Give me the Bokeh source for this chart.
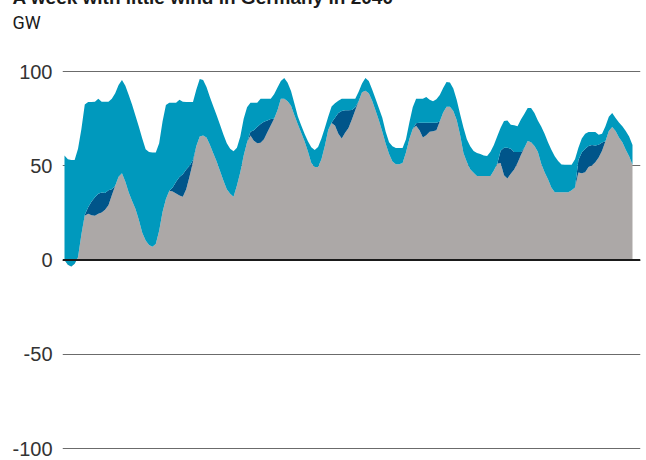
from bokeh.plotting import figure
from bokeh.models import ColumnDataSource, Range1d, Span, Title
from bokeh.embed import file_html
from bokeh.resources import INLINE

# ---- data (GW), hourly over one week (hour 0 .. 168) ----
hours = list(range(169))
gray = [0, -2.5, -3.5, -2, 1.5, 13.5, 23.5, 24.6, 23.7, 23.5,
        24.6, 25.2, 26.6, 29, 34.3, 39.4, 44.2, 46, 41.5, 35.8,
        31.3, 27, 21.2, 14.5, 10.3, 8, 7, 8.5, 15.5, 25.5,
        32.3, 36.8, 36.3, 35.3, 34.2, 33.6, 37.5, 44.5, 52, 60.5,
        65.5, 66, 65, 61.2, 56.7, 52.2, 47.2, 42.2, 37.5, 35.2,
        33.5, 39.5, 46.5, 55.5, 62.5, 66, 63.3, 62, 62.2, 64,
        67.8, 71.3, 75, 79.5, 85.5, 85.5, 84.2, 81.8, 76.8, 72,
        67.5, 63, 57.5, 51.5, 49.4, 49.4, 53.5, 60.5, 69, 72.7,
        71.3, 67, 64.4, 67.5, 70, 74.6, 79.5, 84.2, 89, 89.8,
        88.5, 84.5, 79.3, 74, 68, 61.7, 56.3, 52.2, 50.8, 50.8,
        51.5, 57, 64.2, 69.5, 71.2, 68.8, 65, 66.2, 68, 68.3,
        68.8, 73.5, 78.2, 81.3, 81.3, 79, 74.3, 66.5, 56.8, 52,
        48.2, 46.3, 44.6, 44.6, 44.6, 44.6, 44.6, 47.5, 51, 51.5,
        45, 43.3, 45.8, 48, 51.5, 55.7, 59.4, 63.2, 62.5, 60.5,
        57.4, 51, 46.5, 42.8, 38.5, 36, 36, 36, 36, 36,
        37, 38.5, 46.4, 46, 46.5, 49.4, 50.2, 51.8, 54.4, 58,
        63, 68.5, 70.5, 68.5, 65, 62.5, 58.5, 55, 50.5]
dark = [0, 0, 0, 0, 0, 0, 0.5, 3.4, 7.3, 9.8,
        10.6, 10.6, 8.9, 8, 3.2, 0, 0, 0, 0, 0,
        0, 0, 0, 0, 0, 0, 0, 0, 0, 0,
        0, 0, 2.2, 6.2, 9.8, 11.9, 10.5, 5.5, 1, 0,
        0, 0, 0, 0, 0, 0, 0, 0, 0, 0,
        0, 0, 0, 0, 0, 2, 5.5, 8.5, 10, 9.3,
        6.2, 3.5, 0, 0, 0, 0, 0, 0, 0, 0,
        0, 0, 0, 0, 0, 0, 0, 0, 0, 0.3,
        4.2, 11, 14.6, 11.9, 9.4, 5, 1.5, 0, 0, 0,
        0, 0, 0, 0, 0, 0, 0, 0, 0, 0,
        0, 0, 0, 0, 1.3, 4, 7.8, 6.6, 4.8, 4.5,
        4, 0, 0, 0, 0, 0, 0, 0, 0, 0,
        0, 0, 0, 0, 0, 0, 0, 0, 0, 6.5,
        14.5, 16.2, 13.2, 9.3, 5.8, 1.6, 0, 0, 0, 0,
        0, 0, 0, 0, 0, 0, 0, 0, 0, 0,
        0, 0, 6.6, 11, 12.5, 11.1, 10.8, 9, 6.8, 4.3,
        0, 0, 0, 0, 0, 0, 0, 0, 0]
teal = [55.5, 56, 56.5, 55, 57.5, 56, 58.5, 55.8, 52.8, 50.7,
        50.3, 48.2, 48.5, 47, 48, 49.1, 48.6, 49.5, 51, 51.8,
        51, 49.5, 49.5, 49.9, 48.5, 49.3, 50, 48.5, 46.5, 48,
        49.9, 46.6, 44.9, 41.9, 41, 38.5, 35.8, 33.8, 30.8, 30,
        30.5, 29.5, 26.8, 25.3, 24.9, 24.6, 24.5, 24.4, 24.5, 23.8,
        24.2, 20, 19, 19.5, 18.5, 15.4, 14.6, 12.9, 13.3, 12.2,
        11.5, 10.7, 13, 12, 9.5, 11, 9.8, 7.9, 6.2, 4.3,
        4, 4, 5.5, 8.3, 8.9, 10.6, 11, 9.5, 7, 8.5,
        7.7, 6.5, 6.5, 6.1, 6.1, 5.9, 4.5, 5.1, 4.7, 6.7,
        6.5, 6, 6.3, 6.5, 7.5, 6.3, 6.2, 8.1, 8.6, 8.6,
        7.9, 7, 8.8, 11.5, 13, 12.7, 12.7, 13.7, 12.2, 11.4,
        12.5, 14.1, 13, 13.1, 12.9, 12, 10.7, 11, 13.5, 12,
        12.1, 11.5, 12.2, 11.7, 10.9, 10.6, 12.8, 13.5, 14.7, 12.2,
        14.3, 14.5, 12.8, 14.2, 13.7, 17.2, 18.1, 17.4, 18.1, 17.5,
        16.6, 19.8, 20.5, 19.7, 20, 19, 16.5, 14.7, 14.6, 14.6,
        13.6, 15, 6.5, 7.4, 8, 7.4, 6.9, 7.1, 5.3, 4.7,
        8, 7.5, 7.5, 6.8, 8, 8.5, 10, 10.5, 10.5]
y_ticks = [-100, -50, 0, 50, 100]
y_tick_labels = ["-100", "-50", "0", "50", "100"]
title_text = "A week with little wind in Germany in 2040"
unit_text = "GW"

colors = ["#aca8a7", "#00558a", "#0099bd"]

# ---- layout geometry (pixels) ----
W, H = 646, 472
FL, FR, FT, FB = 62, 6, 52, 8          # frame borders inside the canvas
x0, x1 = -0.59, 168 + 8 / 3.381
y1 = 116.45
y0 = y1 - (H - FT - FB) / 1.885

source = ColumnDataSource(dict(hours=hours, gray=gray, dark=dark, teal=teal))

p = figure(width=W, height=H, output_backend="svg", toolbar_location=None,
           x_range=Range1d(x0, x1), y_range=Range1d(y0, y1),
           x_axis_location=None, margin=(-12, 0, 0, 0),
           min_border_left=FL, min_border_right=FR,
           min_border_top=FT, min_border_bottom=FB)
p.outline_line_color = None
p.background_fill_color = "white"
p.border_fill_color = "white"
p.xgrid.visible = False

p.ygrid.ticker = y_ticks
p.ygrid.grid_line_color = "#6b6b6b"
p.ygrid.grid_line_width = 1

ax = p.yaxis[0]
ax.ticker = y_ticks
ax.major_label_overrides = dict(zip(y_ticks, y_tick_labels))
ax.axis_line_color = None
ax.major_tick_line_color = None
ax.minor_tick_line_color = None
ax.major_tick_in = 0
ax.major_tick_out = 0
ax.major_label_standoff = 10
ax.major_label_text_font = "Liberation Sans"
ax.major_label_text_font_size = "20px"
ax.major_label_text_color = "#333333"

p.varea_stack(["gray", "dark", "teal"], x="hours", source=source, color=colors)

p.add_layout(Span(location=0, dimension="width", line_color="#1a1a1a", line_width=2))

# texts above the frame: unit (nearest the frame), then the title
p.add_layout(Title(text=unit_text, align="left", offset=-50, standoff=15.2,
                   vertical_align="bottom", text_font="Roboto",
                   text_font_size="18px", text_font_style="normal",
                   text_color="#1a1a1a"), "above")
p.add_layout(Title(text=title_text, align="left", offset=-50, standoff=-10.6,
                   vertical_align="bottom", text_font="Liberation Sans",
                   text_font_size="19px", text_font_style="bold",
                   text_color="#1a1a1a"), "above")

open("out.html", "w").write(file_html(p, INLINE))
